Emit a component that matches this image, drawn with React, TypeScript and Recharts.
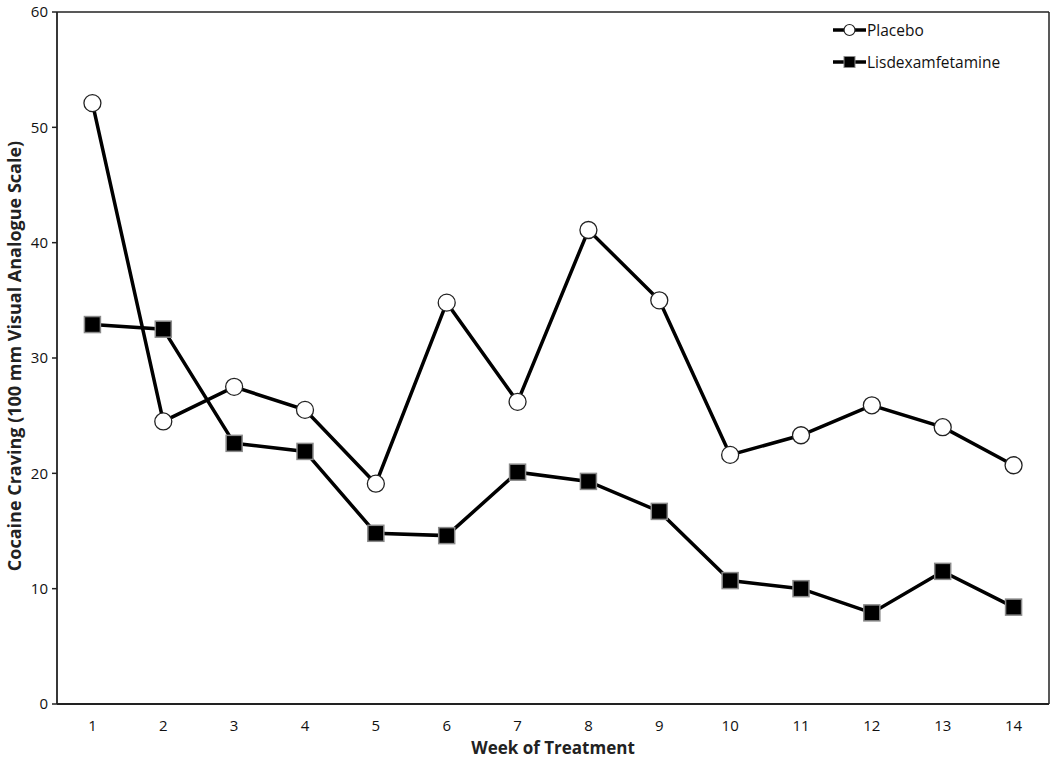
import React from "react";
import { LineChart, Line, XAxis, YAxis, ReferenceLine } from "recharts";

const weeks = [1, 2, 3, 4, 5, 6, 7, 8, 9, 10, 11, 12, 13, 14];
const placebo = [52.1, 24.5, 27.5, 25.5, 19.1, 34.8, 26.2, 41.1, 35.0, 21.6, 23.3, 25.9, 24.0, 20.7];
const lisdex = [32.9, 32.5, 22.6, 21.9, 14.8, 14.6, 20.1, 19.3, 16.7, 10.7, 10.0, 7.9, 11.5, 8.4];
const yTicks = [0, 10, 20, 30, 40, 50, 60];
const boundaryTicks = [0.5, 1.5, 2.5, 3.5, 4.5, 5.5, 6.5, 7.5, 8.5, 9.5, 10.5, 11.5, 12.5, 13.5, 14.5];
const seriesNames = ["Placebo", "Lisdexamfetamine"];

const data = weeks.map((w, i) => ({ week: w, placebo: placebo[i], lisdex: lisdex[i] }));

const FONT = "'Open Sans', 'Noto Sans', sans-serif";

const SquareDot = (props: any) => {
  const { cx, cy } = props;
  if (cx == null || cy == null) return null;
  return <rect x={cx - 8} y={cy - 8} width={16} height={16} fill="#000" stroke="#8a8a8a" strokeWidth={1.5} />;
};

const CircleDot = (props: any) => {
  const { cx, cy } = props;
  if (cx == null || cy == null) return null;
  return <circle cx={cx} cy={cy} r={8.5} fill="#fff" stroke="#222" strokeWidth={1.3} />;
};

const LegendBox = () => (
  <svg width={210} height={60} style={{ position: "absolute", left: 830, top: 16 }}>
    <line x1={3} y1={14} x2={36} y2={14} stroke="#000" strokeWidth={3.5} />
    <circle cx={19.5} cy={14} r={5.5} fill="#fff" stroke="#222" strokeWidth={1.2} />
    <text x={37} y={19.5} fontSize={15.5} fontFamily={FONT} fill="#111">{seriesNames[0]}</text>
    <line x1={3} y1={46} x2={36} y2={46} stroke="#000" strokeWidth={3.5} />
    <rect x={14} y={40.5} width={11} height={11} fill="#000" stroke="#8a8a8a" strokeWidth={1} />
    <text x={37} y={51.5} fontSize={15.5} fontFamily={FONT} fill="#111">{seriesNames[1]}</text>
  </svg>
);

export default function App() {
  return (
    <div style={{ position: "absolute", left: 0, top: 0, width: 1050, height: 757, background: "#fff" }}>
      <LineChart width={1050} height={757} data={data} margin={{ top: 12, right: 1, left: 22, bottom: 23 }}>
        <XAxis
          xAxisId="lab"
          dataKey="week"
          type="number"
          domain={[0.5, 14.5]}
          ticks={weeks}
          tickLine={false}
          axisLine={{ stroke: "#222", strokeWidth: 1.8 }}
          tick={{ fontSize: 15, fill: "#111", fontFamily: FONT }}
          height={30}
          tickMargin={10}
        />
        <XAxis
          xAxisId="b"
          dataKey="week"
          type="number"
          domain={[0.5, 14.5]}
          ticks={boundaryTicks}
          tick={false}
          tickLine={{ stroke: "#222", strokeWidth: 1.5 }}
          tickSize={6}
          axisLine={false}
          height={0}
        />
        <YAxis
          domain={[0, 60]}
          ticks={yTicks}
          width={35}
          axisLine={{ stroke: "#222", strokeWidth: 1.8 }}
          tickLine={{ stroke: "#222", strokeWidth: 1.5 }}
          tickSize={5}
          tick={{ fontSize: 15, fill: "#111", fontFamily: FONT }}
          tickMargin={4}
        />
        <ReferenceLine xAxisId="lab" y={60} stroke="#222" strokeWidth={1.5} />
        <ReferenceLine xAxisId="lab" x={14.5} stroke="#222" strokeWidth={1.5} />
        <Line
          xAxisId="lab"
          type="linear"
          dataKey="placebo"
          name={seriesNames[0]}
          stroke="#000"
          strokeWidth={3.5}
          dot={<CircleDot />}
          isAnimationActive={false}
        />
        <Line
          xAxisId="lab"
          type="linear"
          dataKey="lisdex"
          name={seriesNames[1]}
          stroke="#000"
          strokeWidth={3.5}
          dot={<SquareDot />}
          isAnimationActive={false}
        />
      </LineChart>
      <LegendBox />
      <div
        style={{
          position: "absolute",
          left: 553,
          top: 747,
          transform: "translate(-50%, -50%)",
          fontFamily: FONT,
          fontWeight: "bold",
          fontSize: 17,
          color: "#222",
          whiteSpace: "nowrap",
        }}
      >
        Week of Treatment
      </div>
      <div
        style={{
          position: "absolute",
          left: 14,
          top: 356,
          transform: "translate(-50%, -50%) rotate(-90deg)",
          fontFamily: FONT,
          fontWeight: "bold",
          fontSize: 18,
          color: "#222",
          whiteSpace: "nowrap",
        }}
      >
        Cocaine Craving (100 mm Visual Analogue Scale)
      </div>
    </div>
  );
}
